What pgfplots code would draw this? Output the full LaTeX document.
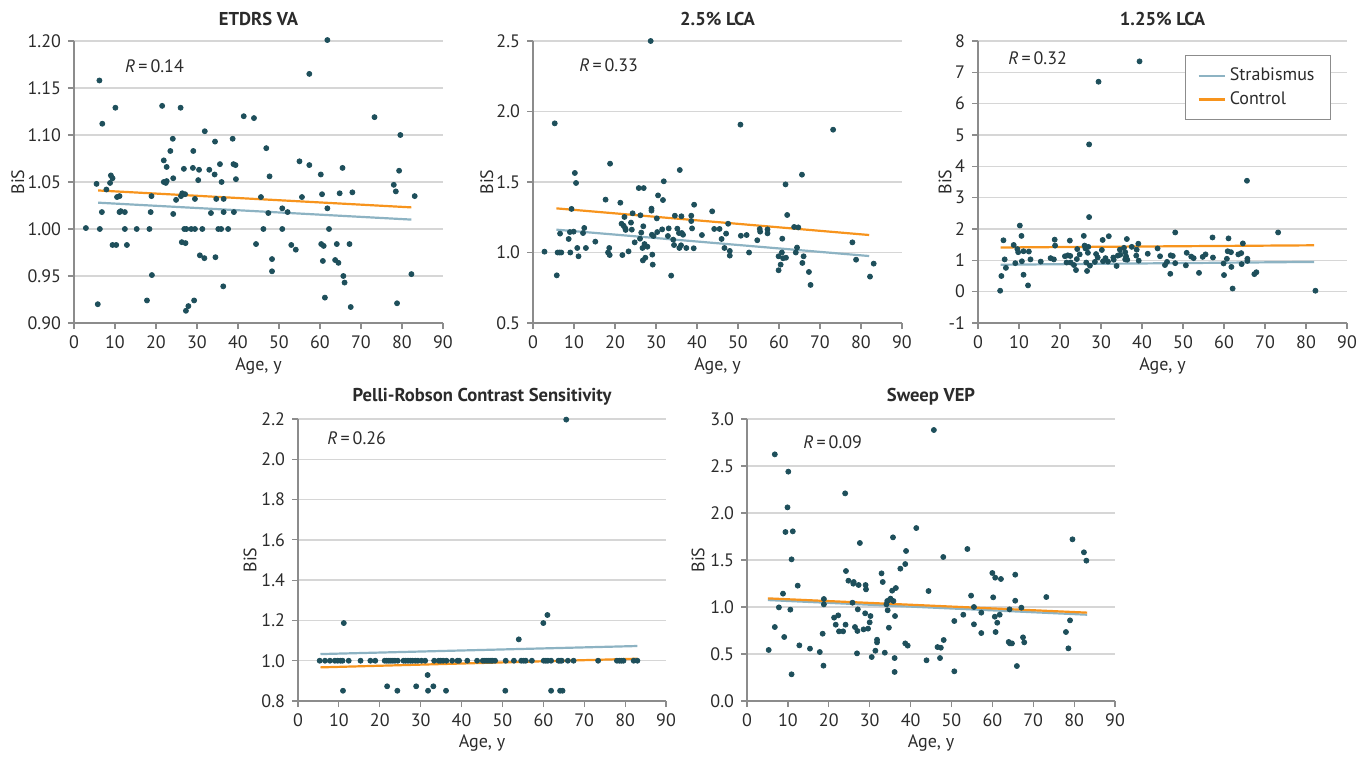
\documentclass[border=0pt]{standalone}
\usepackage{pgfplots}
\pgfplotsset{compat=1.18}
\usepackage{fontspec}
\setmainfont{PT Sans}
\definecolor{dotc}{HTML}{1E4F5B}
\definecolor{strab}{HTML}{8DB3C3}
\definecolor{ctrl}{HTML}{F7941D}
\definecolor{txt}{HTML}{2B2B2B}
\definecolor{axc}{HTML}{8C8C8C}
\tikzset{rlab/.style={anchor=west, text=txt, inner sep=0pt, font=\fontsize{9}{10}\selectfont}}
\pgfplotsset{
  every axis title shift=0pt,
  panel/.style={
    scale only axis, width=184.5pt, height=141pt,
    axis lines=left, axis line style={-, axc, line width=0.6pt},
    xmin=0, xmax=90, xtick={0,10,...,90},
    ymajorgrids, grid style={black!16, line width=0.7pt},
    tick style={axc, line width=0.6pt}, tick align=outside,
    major tick length=3pt,
    xlabel={Age, y}, ylabel={BiS},
    font=\fontsize{9}{10}\selectfont,
    tick label style={font=\fontsize{9}{10}\selectfont, text=txt},
    label style={font=\fontsize{9}{10}\selectfont, text=txt},
    title style={font=\fontsize{9.3}{10}\selectfont\bfseries, text=txt,
      at={(axis description cs:0.5,1.078)}, anchor=center, yshift=0pt},
    xlabel style={at={(axis description cs:0.5,-0.152)}, anchor=center},
    /pgf/number format/assume math mode=true,
    xticklabel style={/pgf/number format/precision=0},
    clip=false,
  },
  ylab/.style={ylabel style={at={(axis description cs:#1,0.5)}, anchor=center}},
  yfmt/.style={yticklabel style={/pgf/number format/fixed, /pgf/number format/fixed zerofill, /pgf/number format/precision=#1}},
  dots/.style={only marks, mark=*, mark size=1.25pt, color=dotc, forget plot},
  sline/.style={no marks, color=strab, line width=1.1pt},
  cline/.style={no marks, color=ctrl, line width=1.1pt},
}
\begin{document}
\begin{tikzpicture}
\useasboundingbox (0,0) rectangle (684pt,378pt);
% ---------------- ETDRS VA
\begin{axis}[panel, at={(37pt,216.5pt)}, anchor=south west, ylab=-0.152,
  title={ETDRS VA}, ymin=0.90, ymax=1.20, ytick={0.90,0.95,...,1.21}, yfmt=2]
\addplot[dots] table {
2.9 1.001
5.5 1.048
5.8 0.920
6.2 1.158
6.3 1.000
6.8 1.018
6.9 1.112
7.9 1.042
8.8 1.049
9.0 1.057
9.4 1.054
9.4 0.983
10.1 1.129
10.3 0.983
10.5 1.034
11.1 1.035
11.1 1.018
11.4 1.019
12.4 1.018
12.4 1.000
12.9 0.983
15.3 1.000
17.8 0.924
18.4 1.000
18.7 1.018
18.9 1.035
19.0 0.951
21.5 1.131
21.9 1.073
21.9 1.050
22.4 1.049
22.6 1.066
22.6 1.051
23.5 1.083
24.1 1.096
24.2 1.016
24.2 1.054
24.9 1.031
26.0 1.129
26.1 1.035
26.3 0.986
26.4 1.038
26.8 1.064
26.9 1.000
27.2 0.985
27.1 1.037
27.3 0.913
27.4 1.000
27.9 0.918
28.6 1.000
29.0 1.065
29.1 1.083
29.3 0.924
29.5 1.000
29.5 1.032
30.3 1.052
30.5 1.063
30.7 0.972
31.3 1.000
31.8 0.969
31.9 1.104
33.0 1.063
33.4 1.017
34.3 1.058
34.4 1.093
34.5 0.970
34.7 1.032
35.2 1.000
35.6 1.069
35.9 1.000
36.0 1.050
36.4 0.939
36.5 1.032
36.5 1.018
37.6 1.000
38.7 1.096
38.9 1.069
39.0 1.018
39.4 1.068
39.5 1.053
41.4 1.120
43.9 1.118
44.4 0.984
45.6 1.034
46.2 1.000
46.9 1.086
47.4 1.017
47.7 1.056
48.3 0.968
48.3 0.955
50.8 1.022
50.8 1.000
52.1 1.018
53.0 0.983
54.1 0.978
55.0 1.072
55.6 1.034
57.4 1.165
57.4 1.068
60.2 1.058
60.3 0.984
60.5 1.037
60.7 0.966
60.9 0.982
61.2 0.927
61.8 1.022
61.8 1.201
62.2 1.000
63.7 0.967
64.1 0.984
64.5 0.964
64.8 1.038
65.5 1.065
65.7 0.950
66.0 0.943
67.2 0.984
67.5 0.917
67.9 1.039
73.3 1.119
78.0 1.047
78.5 1.040
78.8 0.921
79.3 1.062
79.6 1.100
82.3 0.952
83.1 1.035
};
\addplot[sline] coordinates {(5.9,1.028) (82.3,1.010)};
\addplot[cline] coordinates {(5.9,1.041) (82.3,1.023)};
\node[rlab] at (axis cs:12.4,1.173) {\textit{R}\,=\,0.14};
\end{axis}
% ---------------- 2.5% LCA
\begin{axis}[panel, at={(266.5pt,216.5pt)}, anchor=south west, ylab=-0.125,
  title={2.5\% LCA}, ymin=0.5, ymax=2.5, ytick={0.5,1.0,...,2.6}, yfmt=1]
\addplot[dots] table {
2.8 1.006
5.3 1.916
5.8 0.838
6.0 1.000
6.5 1.000
6.9 1.000
6.6 1.134
8.7 1.096
9.0 1.145
9.1 1.000
9.4 1.309
9.9 1.148
10.2 1.564
10.5 1.493
10.8 1.032
11.1 0.973
12.2 1.138
12.5 1.174
12.9 1.032
15.2 1.077
17.7 1.375
18.3 1.000
18.6 1.032
18.7 0.982
18.8 1.630
21.3 1.353
21.6 1.204
21.8 0.982
22.1 1.190
22.3 1.252
22.5 1.171
22.6 1.160
23.3 1.008
23.9 1.212
24.1 1.162
24.3 1.278
24.8 1.072
25.8 1.457
26.1 1.098
26.2 1.264
26.4 1.141
26.7 1.032
26.8 0.944
26.9 1.186
27.0 1.457
27.2 1.060
27.4 0.963
27.9 1.041
28.7 2.500
28.9 1.311
28.9 1.297
29.0 1.126
29.1 0.985
29.2 0.914
29.4 1.117
30.2 1.242
30.3 1.145
30.5 1.405
31.5 1.164
31.7 1.372
31.9 1.505
32.9 1.117
33.1 1.171
33.7 0.836
34.2 1.091
34.4 1.053
34.6 1.261
35.2 1.169
35.6 1.138
35.7 1.032
35.8 1.585
36.1 1.051
36.2 1.257
36.3 1.138
36.6 1.126
37.4 1.032
38.6 1.223
38.6 1.261
38.8 1.171
39.2 1.030
39.3 1.339
41.2 1.124
43.7 1.292
44.2 1.167
45.5 1.167
46.0 1.096
46.7 1.032
47.1 1.134
47.6 1.204
48.0 1.011
48.0 0.978
50.6 1.907
50.7 1.119
52.1 1.124
52.7 1.000
54.7 1.087
55.3 1.167
55.4 1.148
57.2 1.164
57.2 1.136
59.9 0.973
59.9 0.874
60.4 0.914
60.7 1.000
60.8 1.098
61.0 0.959
61.6 1.483
61.7 0.963
62.0 1.266
63.7 1.181
64.1 1.000
64.4 1.035
64.7 1.178
65.6 1.552
65.7 0.926
66.0 0.973
67.3 0.862
67.7 0.770
73.2 1.871
77.9 1.072
78.8 0.949
82.2 0.829
83.1 0.921
};
\addplot[sline] coordinates {(5.7,1.162) (82.0,0.975)};
\addplot[cline] coordinates {(5.7,1.313) (82.0,1.124)};
\node[rlab] at (axis cs:11.2,2.33) {\textit{R}\,=\,0.33};
\end{axis}
% ---------------- 1.25% LCA
\begin{axis}[panel, at={(489pt,216.5pt)}, anchor=south west, ylab=-0.089,
  title={1.25\% LCA}, ymin=-1, ymax=8, ytick={-1,0,...,8},
  yticklabel style={/pgf/number format/precision=0},
  legend style={at={(0.957,0.950)}, anchor=north east, draw=axc,
    line width=0.6pt, fill=white, inner xsep=6pt, inner ysep=4pt,
    font=\fontsize{9}{10}\selectfont, text=txt, row sep=0pt},
  legend cell align=left,
  legend image code/.code={\draw[#1, line width=1.1pt] (0pt,0pt) -- (13pt,0pt);}]
\addplot[dots] table {
5.4 0.03
5.7 0.50
6.2 1.64
6.5 1.03
6.8 0.76
8.7 1.49
9.1 0.91
9.6 1.36
9.8 1.26
10.2 2.11
10.6 1.78
10.7 0.97
11.1 1.29
11.1 0.54
12.2 0.20
12.4 1.28
12.8 1.03
15.3 0.96
17.7 1.07
18.5 1.03
18.7 1.66
18.8 1.47
21.2 1.13
21.6 0.93
21.9 1.16
22.4 1.63
22.5 1.14
22.6 0.93
23.4 0.85
23.9 0.69
24.1 1.04
24.2 1.36
24.8 1.19
25.8 1.78
26.0 1.47
26.2 1.38
26.4 0.93
26.6 0.66
26.8 1.24
26.9 1.43
27.1 2.38
27.1 4.70
27.3 0.83
28.5 0.95
28.8 1.20
29.2 1.09
29.4 6.70
30.2 1.33
30.4 1.65
30.5 0.97
31.1 1.07
31.7 0.96
31.9 1.77
33.0 1.09
33.1 1.02
33.8 0.82
34.1 1.15
34.6 1.34
34.7 1.18
35.6 1.40
35.9 1.26
35.9 1.03
36.1 1.13
36.3 1.68
36.4 1.02
37.5 1.43
38.6 1.15
38.7 1.34
39.1 1.53
39.2 0.99
39.4 7.35
41.4 1.21
43.8 1.38
44.4 1.13
45.6 0.85
46.1 0.95
46.9 0.57
47.0 1.16
47.5 1.14
48.1 1.89
48.1 0.91
50.7 0.84
50.9 1.24
52.0 1.12
52.6 1.07
53.9 0.60
54.8 1.11
55.5 1.19
57.2 1.73
57.3 1.09
59.9 0.90
60.0 0.53
60.7 1.05
60.9 1.29
61.1 1.70
61.7 1.26
61.8 0.79
62.1 0.10
63.5 1.19
64.2 1.23
64.3 0.88
64.6 1.54
65.6 3.54
65.7 1.05
65.7 0.98
67.4 0.56
67.9 0.62
73.2 1.89
82.3 0.03
};
\addplot[sline] coordinates {(5.5,0.86) (82.0,0.95)};
\addlegendentry{Strabismus}
\addplot[cline] coordinates {(5.5,1.41) (82.0,1.48)};
\addlegendentry{Control}
\node[rlab] at (axis cs:7.3,7.46) {\textit{R}\,=\,0.32};
\end{axis}
% ---------------- Pelli-Robson
\begin{axis}[panel, width=184pt, at={(149pt,27.5pt)}, anchor=south west, ylab=-0.130,
  title={Pelli-Robson Contrast Sensitivity}, ymin=0.8, ymax=2.2, ytick={0.8,1.0,...,2.3}, yfmt=1,
  xlabel style={at={(axis description cs:0.5,-0.148)}}]
\addplot[dots] table {
5.3 1.0
6.6 1.0
7.8 1.0
9.0 1.0
9.7 1.0
10.4 1.0
10.9 1.0
12.4 1.0
15.3 1.0
17.7 1.0
18.9 1.0
21.2 1.0
21.7 1.0
22.2 1.0
22.7 1.0
23.2 1.0
23.7 1.0
24.4 1.0
25.8 1.0
26.3 1.0
26.9 1.0
27.5 1.0
28.0 1.0
28.7 1.0
29.3 1.0
30.2 1.0
31.1 1.0
33.3 1.0
34.4 1.0
34.9 1.0
35.5 1.0
36.3 1.0
37.7 1.0
39.0 1.0
39.4 1.0
41.4 1.0
43.8 1.0
45.2 1.0
45.7 1.0
46.2 1.0
46.7 1.0
47.2 1.0
47.6 1.0
48.2 1.0
50.8 1.0
52.8 1.0
54.6 1.0
55.2 1.0
55.7 1.0
57.2 1.0
60.1 1.0
60.6 1.0
61.1 1.0
61.9 1.0
63.7 1.0
64.1 1.0
64.5 1.0
66.0 1.0
67.4 1.0
73.4 1.0
78.0 1.0
78.6 1.0
79.1 1.0
79.6 1.0
82.1 1.0
83.0 1.0
11.0 0.851
11.2 1.187
21.8 0.873
24.3 0.851
28.9 0.873
31.7 0.929
31.8 0.851
33.1 0.873
36.2 0.851
50.7 0.851
54.0 1.106
60.0 1.187
61.0 1.227
61.9 0.851
64.1 0.851
64.7 0.851
65.6 2.197
};
\addplot[sline] coordinates {(5.5,1.033) (83.0,1.073)};
\addplot[cline] coordinates {(5.5,0.967) (83.0,1.010)};
\node[rlab] at (axis cs:7.1,2.106) {\textit{R}\,=\,0.26};
\end{axis}
% ---------------- Sweep VEP
\begin{axis}[panel, width=184pt, at={(373.5pt,27.5pt)}, anchor=south west, ylab=-0.133,
  title={Sweep VEP}, ymin=0, ymax=3, ytick={0,0.5,...,3.1}, yfmt=1,
  xlabel style={at={(axis description cs:0.5,-0.148)}}]
\addplot[dots] table {
5.3 0.543
6.8 2.624
6.8 0.787
7.8 0.996
8.8 1.142
9.1 0.681
9.4 1.798
9.9 2.060
10.1 2.440
10.6 0.972
10.9 1.507
10.9 0.284
11.2 1.805
12.4 1.227
12.8 0.592
15.4 0.557
17.8 0.521
18.5 0.716
18.7 0.376
18.8 1.085
18.8 1.028
21.3 0.887
21.7 0.812
22.3 0.911
22.5 0.741
23.5 0.741
24.0 2.209
24.1 0.812
24.2 1.383
24.8 1.280
25.8 1.046
26.0 1.248
26.1 1.266
26.4 0.787
26.9 0.507
27.0 0.745
27.1 0.975
27.3 1.234
27.6 1.681
28.5 0.762
28.9 0.933
29.0 1.234
29.1 1.188
29.6 0.770
30.0 0.837
30.2 0.904
30.5 0.468
31.4 0.535
31.8 0.652
31.8 0.624
32.9 1.358
33.2 1.266
33.7 0.514
34.1 1.028
34.3 1.064
34.4 0.965
34.7 0.780
34.8 1.074
35.1 1.089
35.5 1.174
35.7 1.741
35.8 1.064
36.1 0.457
36.1 0.309
36.2 0.904
36.4 1.202
37.5 1.408
38.7 1.457
38.7 0.613
38.9 1.596
39.3 0.589
41.4 1.840
43.9 0.433
44.4 1.170
45.7 2.883
46.6 0.574
47.2 0.457
47.4 0.567
48.0 1.532
48.1 0.649
50.7 0.316
50.7 0.851
52.9 0.918
53.9 1.617
54.8 1.121
55.5 1.000
55.5 0.816
57.3 0.940
57.3 0.723
60.0 1.362
60.2 1.103
60.6 0.897
60.7 1.312
60.8 0.734
61.2 0.833
61.8 0.918
62.1 1.298
64.0 0.628
64.2 0.975
64.3 0.613
64.8 0.613
65.6 1.344
65.6 1.067
66.0 0.372
67.1 0.993
67.5 0.677
67.8 0.624
73.2 1.106
78.0 0.734
78.6 0.560
79.0 0.858
79.6 1.720
82.4 1.582
83.0 1.493
};
\addplot[sline] coordinates {(5.1,1.074) (83.2,0.918)};
\addplot[cline] coordinates {(5.1,1.092) (83.2,0.940)};
\node[rlab] at (axis cs:13.7,2.755) {\textit{R}\,=\,0.09};
\end{axis}
\end{tikzpicture}
\end{document}
